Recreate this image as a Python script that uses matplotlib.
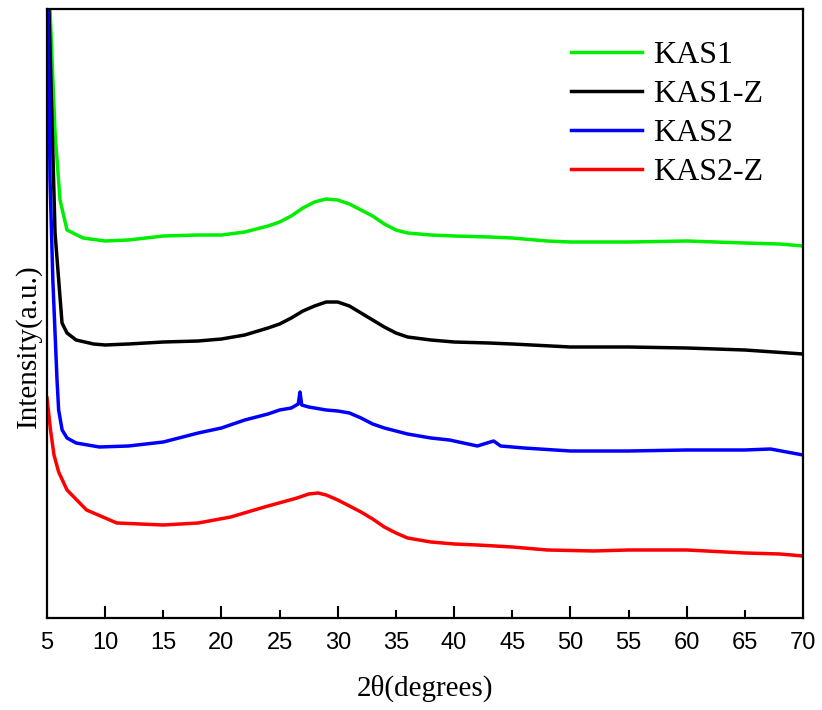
import matplotlib
matplotlib.use("Agg")
import matplotlib.pyplot as plt

# 2theta (deg) / intensity (a.u.)
kas1_x = [5.0, 5.26, 5.69, 6.12, 6.72, 8.1, 10, 12, 15, 18, 20, 22, 24, 25, 26, 27, 28, 29, 30,
          31, 32, 33, 34, 35, 36, 38, 40, 43, 45, 48, 50, 55, 60, 65, 68, 70]
kas1_y = [678, 608, 485, 418, 388, 380, 377, 378, 382, 383, 383, 386, 392, 396, 402, 410, 416, 419, 418,
          414, 408, 402, 394, 388, 385, 383, 382, 381, 380, 377, 376, 376, 377, 375, 374, 372]

kas1z_x = [5.0, 5.17, 5.69, 6.29, 6.72, 7.5, 9, 10, 12, 15, 18, 20, 22, 24, 25, 26, 27, 28, 29, 30,
           31, 32, 33, 34, 35, 36, 38, 40, 43, 45, 50, 55, 60, 65, 70]
kas1z_y = [648, 608, 385, 295, 285, 278, 274, 273, 274, 276, 277, 279, 283, 290, 294, 300, 307, 312, 316, 316,
           312, 305, 298, 291, 285, 281, 278, 276, 275, 274, 271, 271, 270, 268, 264]

kas2_x = [5.0, 5.09, 5.26, 5.5, 5.86, 6.0, 6.3, 6.72, 7.5, 9.5, 12, 15, 18, 20, 22, 24, 25, 26, 26.6,
          26.75, 26.9, 27.5, 28, 29, 30, 31, 32, 33, 34, 35, 36, 38, 39.6, 42, 43.4, 44, 46, 50, 55,
          60, 65, 67.2, 70]
kas2_y = [658, 608, 438, 338, 238, 208, 188, 180, 175, 171, 172, 176, 185, 190, 198, 204, 208, 210, 214,
          226, 213, 211, 210, 208, 207, 205, 200, 194, 190, 187, 184, 180, 178, 172, 177, 172, 170, 167, 167,
          168, 168, 169, 163]

kas2z_x = [5.0, 5.3, 5.6, 6.0, 6.72, 8.4, 11, 15, 18, 20.8, 23.7, 26.5, 27.5, 28.3, 29, 30, 31, 32, 33,
           34, 35, 36, 38, 40, 42, 45, 48, 52, 55, 60, 65, 68, 70]
kas2z_y = [220, 188, 163, 146, 128, 108, 95, 93, 95, 101, 111, 120, 124, 125, 123, 118, 112, 106, 99,
           91, 85, 80, 76, 74, 73, 71, 68, 67, 68, 68, 65, 64, 62]

tick_vals = list(range(5, 71, 5))

fig = plt.figure(figsize=(8.22, 7.10), dpi=100)
ax = fig.add_axes([0.0572, 0.1296, 0.9197, 0.8577])

ax.plot(kas1_x, kas1_y, color="#00ee00", lw=2.5, label="KAS1")
ax.plot(kas1z_x, kas1z_y, color="black", lw=2.5, label="KAS1-Z")
ax.plot(kas2_x, kas2_y, color="#0000ff", lw=2.5, label="KAS2")
ax.plot(kas2z_x, kas2z_y, color="#ff0000", lw=2.5, label="KAS2-Z")

ax.set_xlim(5, 70)
ax.set_ylim(0, 609)
ax.set_xticks(tick_vals)
ax.set_xticklabels([str(v) for v in tick_vals], family="Liberation Sans", fontsize=17)
ax.set_yticks([])
ax.tick_params(axis="x", which="both", length=0, pad=10)

# tick marks pointing in: long on multiples of 10, short on odd fives
for v in tick_vals[1:-1]:
    h = 0.018 if v % 10 == 0 else 0.011
    ax.plot([v, v], [0, h], transform=ax.get_xaxis_transform(), color="black", lw=1.5, clip_on=False)

for s in ax.spines.values():
    s.set_linewidth(1.6)

ax.set_xlabel("2θ(degrees)", family="Liberation Serif", fontsize=21, labelpad=15)
ax.set_ylabel("Intensity(a.u.)", family="Liberation Serif", fontsize=21)
ax.yaxis.set_label_coords(-0.007, 0.447)

ax.legend(loc="upper right", bbox_to_anchor=(0.985, 0.995), frameon=False,
          prop={"family": "Liberation Serif", "size": 23},
          handlelength=2.2, handletextpad=0.35, labelspacing=0.3)

fig.savefig("out.png", dpi=100)
